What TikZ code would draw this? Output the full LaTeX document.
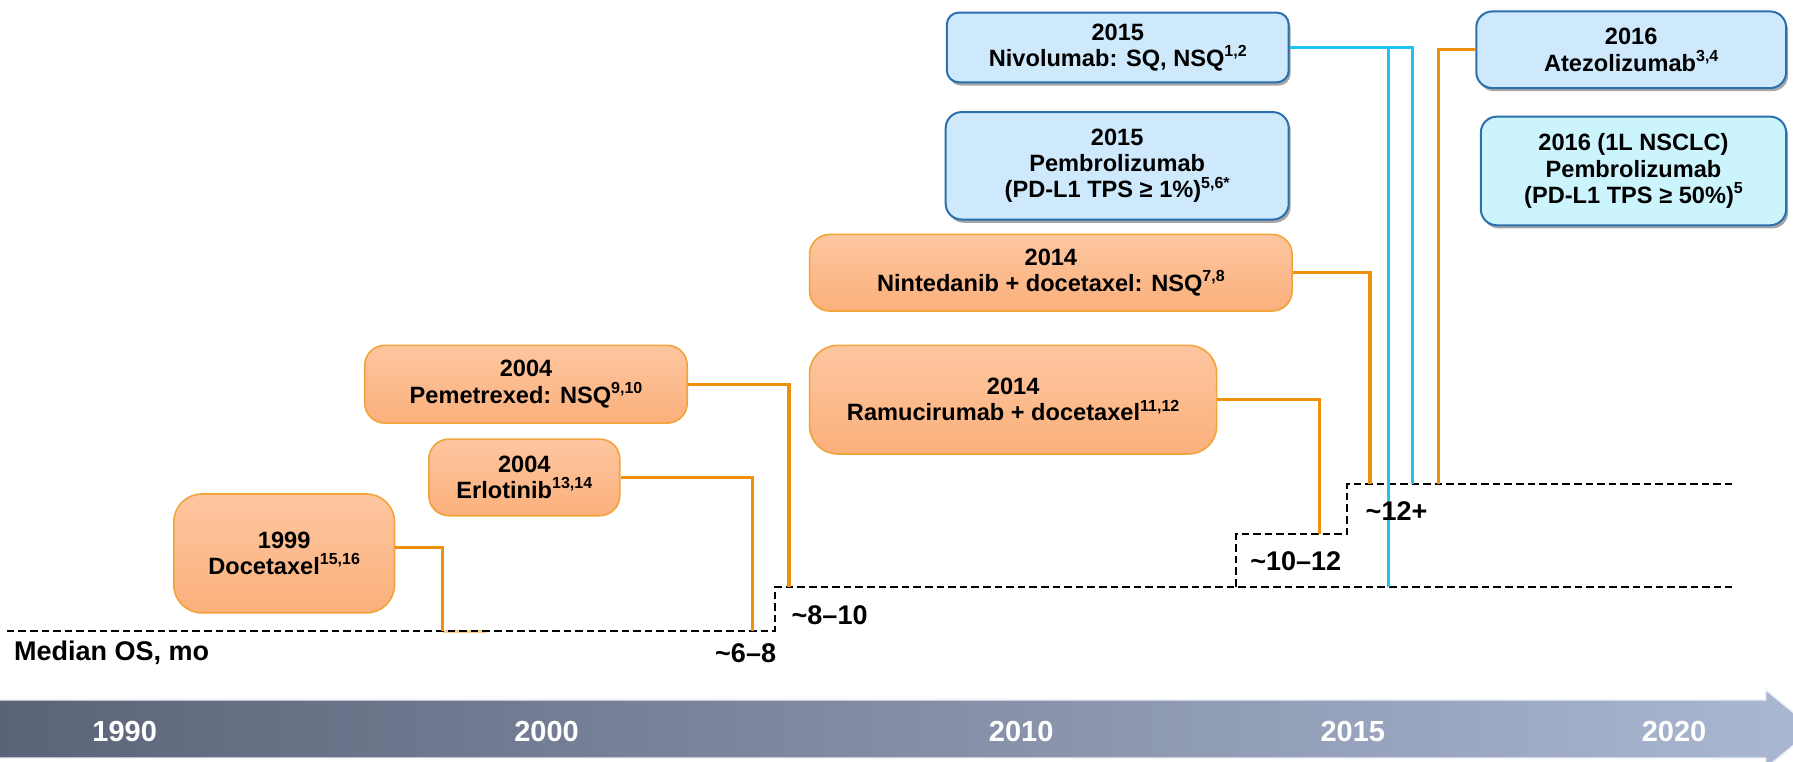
\documentclass[tikz,border=0pt]{standalone}
\usepackage{fontspec}
\setmainfont{Liberation Sans}
\usetikzlibrary{shadows,calc}
\definecolor{otop}{HTML}{FDC6A0}
\definecolor{obot}{HTML}{FBB07B}
\definecolor{obord}{HTML}{F2A33A}
\definecolor{oline}{HTML}{EE900C}
\definecolor{bfill}{HTML}{CDE9FB}
\definecolor{cfill}{HTML}{CCF4FC}
\definecolor{bbord}{HTML}{2B6FAD}
\definecolor{cline}{HTML}{1CC3F5}
\definecolor{bandl}{HTML}{5B6377}
\definecolor{bandr}{HTML}{ABB8D3}
\newdimen\pxu
\pxu=0.57175pt
\newcommand\sups[1]{\raisebox{0.42em}{\fontsize{8}{8}\selectfont #1}}
\tikzset{
  boxtext/.style={font=\fontsize{11.8}{13.2}\selectfont\bfseries, align=center, inner sep=0pt, text=black},
  sz/.style 2 args={minimum width=#1\pxu, minimum height=#2\pxu},
  obox/.style={boxtext, draw=obord, line width=0.8pt, rounded corners=10pt, top color=otop, bottom color=obot},
  bbox/.style={boxtext, draw=bbord, line width=1pt, rounded corners=6pt, fill=bfill,
     drop shadow={shadow xshift=1pt, shadow yshift=-1.6pt, opacity=0.35, fill=black}},
  cbox/.style={bbox, fill=cfill},
  olink/.style={draw=oline, line width=1.6pt},
  clink/.style={draw=cline, line width=1.7pt},
  osline/.style={draw=black, line width=1.1pt, dash pattern=on 3.8pt off 2pt},
  lbl/.style={font=\fontsize{13.5}{14}\selectfont\bfseries, inner sep=0pt, text=black},
  yr/.style={font=\fontsize{14.5}{15}\selectfont\bfseries, inner sep=0pt, text=white},
}
\begin{document}
\begin{tikzpicture}[x=0.57175pt, y=-0.57175pt]
\useasboundingbox (0,0) rectangle (1568,666);
\clip (0,0) rectangle (1568,666);

% timeline arrow band
\path[left color=bandl, right color=bandr, draw=white!82!bandr, line width=0.8pt]
  (-2,612) -- (1544,612) -- (1544,603) -- (1586,637.5) -- (1544,672) -- (1544,663) -- (-2,663) -- cycle;
\node[yr] (y1990) at (109,640) {1990};
\node[yr] (y2000) at (478,640) {2000};
\node[yr] (y2010) at (893,640) {2010};
\node[yr] (y2015) at (1183,640) {2015};
\node[yr] (y2020) at (1464,640) {2020};

% boxes
\node[bbox, sz={299}{61}] (niv) at (977.5,41.5) {2015\\Nivolumab: SQ, NSQ\sups{1,2}};
\node[bbox, rounded corners=8pt, sz={300}{94}] (pemb) at (977,145) {2015\\Pembrolizumab\\(PD-L1 TPS ≥ 1\%)\sups{5,6*}};
\node[bbox, rounded corners=8pt, sz={271}{67}] (atz) at (1426.5,43.5) {2016\\Atezolizumab\sups{3,4}};
\node[cbox, rounded corners=8pt, sz={267}{95}] (pemb1l) at (1428.5,149.5) {2016 (1L NSCLC)\\Pembrolizumab\\(PD-L1 TPS ≥ 50\%)\sups{5}};
\node[obox, sz={422}{67}] (nin) at (919,238.5) {2014\\Nintedanib + docetaxel: NSQ\sups{7,8}};
\node[obox, rounded corners=14pt, sz={356}{95}] (ram) at (886,349.5) {2014\\Ramucirumab + docetaxel\sups{11,12}};
\node[obox, sz={282}{68}] (pem) at (460,336) {2004\\Pemetrexed: NSQ\sups{9,10}};
\node[obox, sz={167}{67}] (erl) at (458.5,417.5) {2004\\Erlotinib\sups{13,14}};
\node[obox, rounded corners=14pt, sz={193}{104}] (doc) at (248.5,484) {1999\\Docetaxel\sups{15,16}};

% step coordinates
\coordinate (s0) at (6,552);
\coordinate (s1) at (678,552);
\coordinate (s2) at (678,513);
\coordinate (s3) at (1515,513);
\coordinate (s4) at (1081,513);
\coordinate (s5) at (1081,467);
\coordinate (s6) at (1178,467);
\coordinate (s7) at (1178,423);
\coordinate (s8) at (1516,423);

\coordinate (edoc) at (387,552);
\coordinate (edocb) at (426,552);
\coordinate (eerl) at (658,552);
\coordinate (epem) at (690,513);
\coordinate (eram) at (1154,467);
\coordinate (enin) at (1198,423);
\coordinate (eatz) at (1258,423);
\coordinate (eniv1) at (1214,513);
\coordinate (eniv2) at (1235,423);

% faint bottom segment under the baseline
\draw[olink, draw opacity=0.45] (edoc) -- (edocb);

% dashed median OS steps
\draw[osline] (s0) -- (s1) -- (s2) -- (s3);
\draw[osline] (s4) -- (s5) -- (s6) -- (s7) -- (s8);

% connectors
\draw[olink] ($(doc.east)+(0,-5)$) -| (edoc);
\draw[olink] (erl.east) -| (eerl);
\draw[olink] (pem.east) -| (epem);
\draw[olink] (ram.east) -| (eram);
\draw[olink] (nin.east) -| (enin);
\draw[olink] (atz.west) -| (eatz);
\draw[clink] (niv.east) -| (eniv2);
\draw[clink] (niv.east -| eniv1) -- (eniv1);

% labels
\node[lbl, anchor=west] (mos) at (12,571) {Median OS, mo};
\node[lbl, anchor=east] (l68) at (679,571) {\textasciitilde6–8};
\node[lbl, anchor=west] (l810) at (692,538) {\textasciitilde8–10};
\node[lbl, anchor=west] (l1012) at (1093,491) {\textasciitilde10–12};
\node[lbl, anchor=west] (l12) at (1194,447) {\textasciitilde12+};
\end{tikzpicture}
\end{document}
